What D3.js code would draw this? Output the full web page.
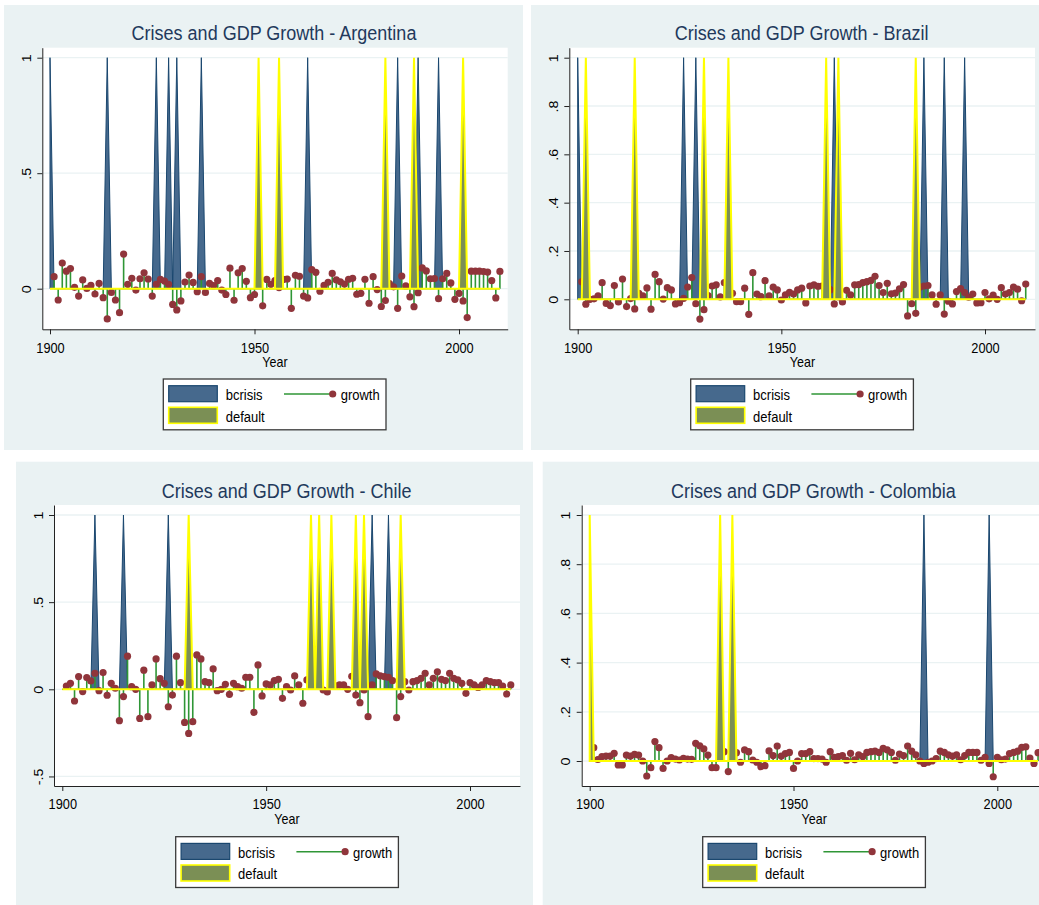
<!DOCTYPE html>
<html>
<head>
<meta charset="utf-8">
<script src="https://cdn.jsdelivr.net/npm/d3@7"></script>
<style>
  body { margin: 0; background: #ffffff; }
  svg { display: block; font-family: "Liberation Sans", Arial, sans-serif; }
</style>
</head>
<body>
<div id="chart"></div>
<script>

// ---- data ----

const years = d3.range(1900, 2011)

// growth, one value per year 1900..2010 (null = no observation)
const argGrowth = [
  null, 0.052, -0.049, 0.111, 0.076, 0.087, 0.006, -0.032, 0.038, 0.001,
  0.014, -0.023, 0.023, -0.039, -0.131, -0.016, -0.049, -0.104, 0.150, 0.019,
  0.045, -0.006, 0.043, 0.069, 0.042, -0.032, 0.019, 0.040, 0.033, 0.019,
  -0.068, -0.092, -0.053, 0.029, 0.059, 0.027, -0.013, 0.052, -0.016, 0.023,
  0.013, 0.035, -0.006, -0.025, 0.089, -0.050, 0.069, 0.087, 0.032, -0.039,
  -0.025, 0.030, -0.074, 0.040, 0.019, 0.035, 0.005, 0.040, 0.042, -0.085,
  0.058, 0.054, -0.032, -0.040, 0.083, 0.071, -0.011, 0.014, 0.028, 0.066,
  0.038, 0.030, 0.020, 0.041, 0.045, -0.024, -0.020, 0.041, -0.063, 0.052,
  -0.004, -0.077, -0.051, 0.022, 0.008, -0.085, 0.055, 0.012, -0.035, -0.078,
  -0.017, 0.090, 0.077, 0.043, 0.044, -0.043, 0.043, 0.066, 0.025, -0.046,
  -0.020, -0.053, -0.125, 0.076, 0.076, 0.076, 0.074, 0.072, 0.035, -0.040,
  0.075
]
const braGrowth = [
  null, 0.073, -0.020, 0.000, 0.002, 0.014, 0.069, -0.017, -0.026, 0.057,
  -0.011, 0.084, -0.030, 0.003, -0.040, 0.025, 0.014, 0.047, -0.041, 0.103,
  0.073, 0.001, 0.048, 0.039, -0.019, -0.014, 0.004, 0.051, 0.090, -0.018,
  -0.082, -0.043, 0.015, 0.055, 0.060, 0.010, 0.069, 0.040, 0.025, -0.010,
  -0.010, 0.046, -0.062, 0.110, 0.022, 0.011, 0.077, 0.014, 0.050, 0.039,
  -0.003, 0.018, 0.029, 0.022, 0.039, 0.046, -0.015, 0.055, 0.060, 0.054,
  0.055, 0.070, 0.040, -0.019, 0.010, -0.011, 0.037, 0.018, 0.060, 0.061,
  0.069, 0.073, 0.078, 0.095, 0.057, 0.028, 0.066, 0.023, 0.026, 0.043,
  0.061, -0.069, -0.018, -0.058, 0.050, 0.055, 0.057, 0.018, -0.020, 0.018,
  -0.061, -0.008, -0.019, 0.032, 0.044, 0.028, 0.009, 0.022, -0.015, -0.014,
  0.028, 0.002, 0.017, 0.000, 0.048, 0.022, 0.028, 0.050, 0.042, -0.006,
  0.063
]
const chlGrowth = [
  null, 0.019, 0.034, -0.067, 0.073, -0.013, 0.067, 0.048, 0.092, -0.008,
  0.096, -0.034, 0.034, 0.006, -0.180, -0.042, 0.190, 0.015, 0.000, -0.167,
  0.110, -0.157, 0.025, 0.174, 0.061, 0.034, -0.100, -0.033, 0.190, 0.038,
  -0.190, -0.253, -0.186, 0.197, 0.174, 0.044, 0.038, 0.117, -0.008, 0.000,
  0.029, -0.029, 0.034, 0.015, 0.006, 0.069, 0.069, -0.132, 0.140, -0.038,
  0.031, 0.025, 0.050, 0.057, -0.052, 0.015, -0.004, 0.077, 0.025, -0.080,
  0.054, 0.040, 0.050, 0.030, -0.004, -0.015, 0.060, 0.020, 0.025, 0.025,
  0.000, 0.075, -0.033, -0.077, -0.004, -0.157, 0.025, 0.088, 0.077, 0.073,
  0.069, 0.050, -0.163, -0.042, 0.044, -0.004, 0.044, 0.050, 0.063, 0.092,
  0.025, 0.063, 0.100, 0.057, 0.050, 0.092, 0.063, 0.054, 0.034, -0.023,
  0.038, 0.025, 0.011, 0.025, 0.050, 0.044, 0.038, 0.038, 0.019, -0.027,
  0.025
]
const colGrowth = [
  null, 0.054, 0.006, 0.018, 0.020, 0.020, 0.031, -0.016, -0.016, 0.024,
  0.020, 0.027, 0.024, 0.000, -0.061, -0.027, 0.079, 0.054, -0.030, 0.000,
  0.014, 0.008, 0.004, 0.011, 0.008, 0.007, 0.072, 0.062, 0.049, 0.024,
  -0.027, -0.027, 0.040, 0.038, -0.043, 0.030, 0.034, -0.005, 0.045, 0.038,
  0.004, -0.005, -0.023, -0.019, 0.041, 0.022, 0.061, 0.020, 0.030, 0.035,
  -0.030, 0.000, 0.030, 0.030, 0.038, 0.010, 0.010, 0.008, -0.005, 0.038,
  0.015, 0.018, 0.022, 0.003, 0.031, 0.005, 0.025, 0.018, 0.035, 0.038,
  0.040, 0.035, 0.051, 0.045, 0.035, 0.003, 0.028, 0.022, 0.061, 0.040,
  0.025, 0.000, -0.010, -0.005, 0.000, 0.010, 0.040, 0.035, 0.025, 0.020,
  0.025, 0.005, 0.022, 0.035, 0.035, 0.035, 0.003, 0.015, -0.010, -0.064,
  0.015, 0.005, 0.008, 0.030, 0.035, 0.040, 0.055, 0.058, 0.012, -0.010,
  0.034
]

// years flagged 1 in the bcrisis / default series
const argBcrisis = [1900, 1914, 1926, 1929, 1931, 1937, 1963, 1985, 1990, 1995]
const argDefault = [1951, 1956, 1982, 1989, 2001]
const braBcrisis = [1900, 1926, 1929, 1963, 1985, 1990, 1995]
const braDefault = [1902, 1914, 1931, 1937, 1961, 1964, 1983]
const chlBcrisis = [1908, 1915, 1926, 1976, 1980]
const chlDefault = [1931, 1961, 1963, 1966, 1972, 1974, 1983]
const colBcrisis = [1982, 1998]
const colDefault = [1900, 1932, 1935]

// axis ticks
const xTicks = [1900, 1950, 2000]
const yTicksHalf = [0, 0.5, 1]
const yTicksFifth = [0, 0.2, 0.4, 0.6, 0.8, 1]
const yTicksChile = [-0.5, 0, 0.5, 1]

// ---- layout of the four graphs ----

const panels = [
  { country: "Argentina", growth: argGrowth, bcrisis: argBcrisis, def: argDefault, yTicks: yTicksHalf,
    bg: [4, 5, 519, 445], plot: { left: 42.3, top: 47.7, right: 507.7, bottom: 329.3 },
    xPix: [50, 459], yPix: [288.7, 57.7], titleX: 274, titleY: 40, yearX: 275, yearY: 366.7,
    legend: [163.3, 379] },
  { country: "Brazil", growth: braGrowth, bcrisis: braBcrisis, def: braDefault, yTicks: yTicksFifth,
    bg: [531, 5, 508, 445], plot: { left: 569.3, top: 47.7, right: 1035, bottom: 329.3 },
    xPix: [577.7, 985], yPix: [299.3, 57.7], titleX: 801.7, titleY: 40, yearX: 802.5, yearY: 366.7,
    legend: [690.7, 379] },
  { country: "Chile", growth: chlGrowth, bcrisis: chlBcrisis, def: chlDefault, yTicks: yTicksChile,
    bg: [16, 461.7, 517, 443.3], plot: { left: 54, top: 505, right: 520, bottom: 786 },
    xPix: [62.3, 470], yPix: [689.3, 515], titleX: 286.7, titleY: 497.7, yearX: 287, yearY: 824.3,
    legend: [175.7, 836.7] },
  { country: "Colombia", growth: colGrowth, bcrisis: colBcrisis, def: colDefault, yTicks: yTicksFifth,
    bg: [542.7, 461.7, 500, 443.3], plot: { left: 581.7, top: 505, right: 1047, bottom: 786 },
    xPix: [589.7, 997.3], yPix: [761, 515], titleX: 813.3, titleY: 497.7, yearX: 814.2, yearY: 824.3,
    legend: [702.7, 836.7] }
]

const bgColor = "#eaf2f3"
const crisisFill = "#46698d", crisisLine = "#1a476f"
const defaultFill = "#7b8f55", defaultLine = "#ffff00"
const stemColor = "#2f9636", dotColor = "#90353b"
const stretch = 1.12   // glyphs in the picture are a little taller than wide

const yFormat = d => d === 0 ? "0" : String(d).replace("0.", ".")

const svg = d3.select("#chart")
  .append("svg")
  .attr("width", 1039)
  .attr("height", 905)

panels.forEach(p => {

  const g = svg.append("g")

  // backgrounds
  g.append("rect")
    .attr("x", p.bg[0]).attr("y", p.bg[1])
    .attr("width", p.bg[2]).attr("height", p.bg[3])
    .attr("fill", bgColor)

  g.append("rect")
    .attr("x", p.plot.left).attr("y", p.plot.top)
    .attr("width", p.plot.right - p.plot.left)
    .attr("height", p.plot.bottom - p.plot.top)
    .attr("fill", "#ffffff")

  // scales: calibrated on the labelled ticks, stretched to the plot region
  const xCal = d3.scaleLinear().domain([1900, 2000]).range(p.xPix)
  const x = d3.scaleLinear()
    .domain([xCal.invert(p.plot.left), xCal.invert(p.plot.right)])
    .range([p.plot.left, p.plot.right])

  const yCal = d3.scaleLinear().domain([0, 1]).range(p.yPix)
  const y = d3.scaleLinear()
    .domain([yCal.invert(p.plot.bottom), yCal.invert(p.plot.top)])
    .range([p.plot.bottom, p.plot.top])

  // gridlines
  g.selectAll("line.grid")
    .data(p.yTicks)
    .join("line")
    .attr("class", "grid")
    .attr("x1", p.plot.left).attr("x2", p.plot.right)
    .attr("y1", d => y(d)).attr("y2", d => y(d))
    .attr("stroke", bgColor)
    .attr("stroke-width", 1.3)

  const area = d3.area()
    .x(d => x(d.year))
    .y0(y(0))
    .y1(d => y(d.v))

  // bcrisis area
  const crisisSeries = years.map(yr => ({ year: yr, v: p.bcrisis.includes(yr) ? 1 : 0 }))
  g.append("path")
    .datum(crisisSeries)
    .attr("d", area)
    .attr("fill", crisisFill)
    .attr("stroke", crisisLine)
    .attr("stroke-width", 1)

  // growth droplines
  const growthPts = years
    .map((yr, i) => ({ year: yr, v: p.growth[i] }))
    .filter(d => d.v !== null)

  g.selectAll("line.stem")
    .data(growthPts)
    .join("line")
    .attr("class", "stem")
    .attr("x1", d => x(d.year)).attr("x2", d => x(d.year))
    .attr("y1", y(0)).attr("y2", d => y(d.v))
    .attr("stroke", stemColor)
    .attr("stroke-width", 1.6)

  g.selectAll("circle.dot")
    .data(growthPts)
    .join("circle")
    .attr("class", "dot")
    .attr("cx", d => x(d.year))
    .attr("cy", d => y(d.v))
    .attr("r", 3.6)
    .attr("fill", dotColor)

  // default area, drawn last
  const defaultSeries = years.map(yr => ({ year: yr, v: p.def.includes(yr) ? 1 : 0 }))
  g.append("path")
    .datum(defaultSeries)
    .attr("d", area)
    .attr("fill", defaultFill)
    .attr("stroke", defaultLine)
    .attr("stroke-width", 2)

  // axes
  const xAxis = g.append("g")
    .attr("transform", `translate(0,${p.plot.bottom})`)
    .call(d3.axisBottom(x).tickValues(xTicks).tickFormat(d3.format("d")).tickSize(5).tickSizeOuter(0))
  xAxis.select(".domain").attr("stroke", "#222")
  xAxis.selectAll(".tick line").attr("stroke", "#222")
  xAxis.selectAll(".tick text")
    .attr("y", 0).attr("dy", 0)
    .attr("transform", `translate(0,23.4) scale(1,${stretch})`)
    .attr("font-size", 12.8)
    .attr("font-family", "Liberation Sans, Arial, sans-serif")
    .attr("fill", "#000")

  const yAxis = g.append("g")
    .attr("transform", `translate(${p.plot.left},0)`)
    .call(d3.axisLeft(y).tickValues(p.yTicks).tickFormat(yFormat).tickSize(5).tickSizeOuter(0))
  yAxis.select(".domain").attr("stroke", "#222")
  yAxis.selectAll(".tick line").attr("stroke", "#222")
  yAxis.selectAll(".tick text")
    .attr("x", 0).attr("dy", 0)
    .attr("text-anchor", "middle")
    .attr("transform", `translate(-11.5,0) rotate(-90) scale(${stretch},1)`)
    .attr("font-size", 12.8)
    .attr("font-family", "Liberation Sans, Arial, sans-serif")
    .attr("fill", "#000")

  // title and axis title
  g.append("text")
    .attr("transform", `translate(${p.titleX},${p.titleY}) scale(1,${stretch})`)
    .attr("text-anchor", "middle")
    .attr("font-size", 18)
    .attr("fill", "#22395c")
    .text(`Crises and GDP Growth - ${p.country}`)

  g.append("text")
    .attr("transform", `translate(${p.yearX},${p.yearY}) scale(1,${stretch})`)
    .attr("text-anchor", "middle")
    .attr("font-size", 12.5)
    .attr("fill", "#000")
    .text("Year")

  // legend
  const lg = g.append("g").attr("transform", `translate(${p.legend[0]},${p.legend[1]})`)

  lg.append("rect")
    .attr("width", 222.7).attr("height", 50.8)
    .attr("fill", "#ffffff")
    .attr("stroke", "#3a3a3a")
    .attr("stroke-width", 1.3)

  lg.append("rect")
    .attr("x", 5.4).attr("y", 6.7).attr("width", 48.6).attr("height", 16)
    .attr("fill", crisisFill).attr("stroke", crisisLine).attr("stroke-width", 1.2)

  lg.append("rect")
    .attr("x", 5.4).attr("y", 28.3).attr("width", 48.6).attr("height", 16)
    .attr("fill", defaultFill).attr("stroke", defaultLine).attr("stroke-width", 1.6)

  lg.append("line")
    .attr("x1", 120.7).attr("x2", 169.4).attr("y1", 15).attr("y2", 15)
    .attr("stroke", stemColor).attr("stroke-width", 1.6)

  lg.append("circle")
    .attr("cx", 169.4).attr("cy", 15).attr("r", 3.6)
    .attr("fill", dotColor)

  const legendItems = [
    { label: "bcrisis", x: 62.4, y: 21 },
    { label: "default", x: 62.4, y: 42.7 },
    { label: "growth", x: 177.4, y: 21 }
  ]
  lg.selectAll("text")
    .data(legendItems)
    .join("text")
    .attr("transform", d => `translate(${d.x},${d.y}) scale(1,${stretch})`)
    .attr("font-size", 13)
    .attr("fill", "#000")
    .text(d => d.label)
})

</script>
</body>
</html>
